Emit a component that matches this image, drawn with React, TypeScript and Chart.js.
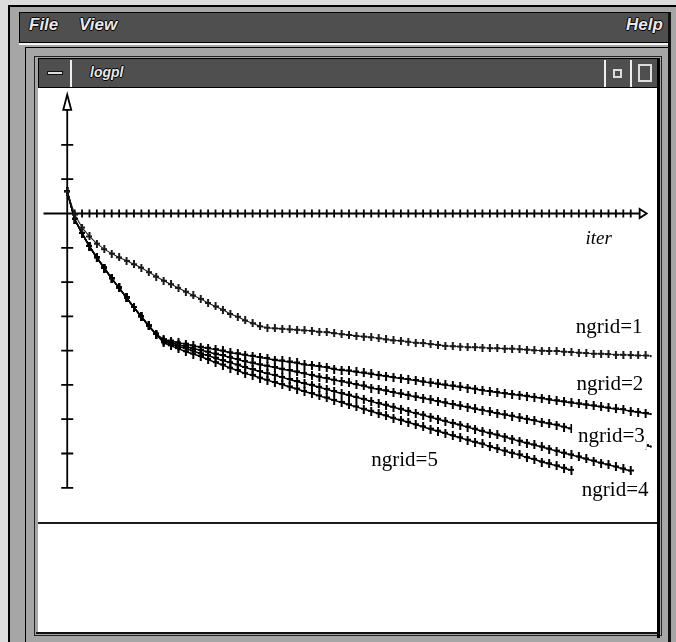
import React, { useEffect, useRef } from "react";
import { Chart, registerables } from "chart.js";

Chart.register(...registerables);

// residual (log scale units) per iteration, index = iteration number
const ngrid1 = [
  0.64, -0.03, -0.41, -0.67, -0.88, -1.04, -1.17, -1.28, -1.38, -1.48,
  -1.58, -1.71, -1.84, -1.96, -2.06, -2.17, -2.28, -2.39, -2.49, -2.61,
  -2.71, -2.81, -2.93, -3.01, -3.12, -3.2, -3.29, -3.33, -3.35, -3.36,
  -3.38, -3.39, -3.41, -3.42, -3.45, -3.46, -3.49, -3.52, -3.54, -3.57,
  -3.59, -3.61, -3.64, -3.67, -3.7, -3.71, -3.74, -3.77, -3.78, -3.81,
  -3.83, -3.86, -3.87, -3.88, -3.9, -3.9, -3.91, -3.93, -3.93, -3.94,
  -3.94, -3.96, -3.97, -3.99, -4.0, -4.01, -4.01, -4.03, -4.04, -4.06,
  -4.07, -4.09, -4.09, -4.1, -4.12, -4.12, -4.13, -4.14, -4.14, -4.16,
];
const ngrid2 = [
  0.64, -0.17, -0.58, -0.96, -1.29, -1.59, -1.9, -2.17, -2.46, -2.74,
  -3.01, -3.28, -3.52, -3.68, -3.72, -3.77, -3.81, -3.86, -3.9, -3.93,
  -3.97, -4.01, -4.06, -4.09, -4.13, -4.16, -4.2, -4.23, -4.28, -4.3,
  -4.33, -4.36, -4.41, -4.43, -4.46, -4.49, -4.54, -4.57, -4.59, -4.62,
  -4.65, -4.68, -4.72, -4.75, -4.78, -4.81, -4.84, -4.87, -4.91, -4.94,
  -4.97, -5.0, -5.03, -5.06, -5.09, -5.12, -5.16, -5.19, -5.22, -5.25,
  -5.28, -5.3, -5.33, -5.36, -5.39, -5.43, -5.46, -5.49, -5.52, -5.55,
  -5.58, -5.61, -5.64, -5.67, -5.7, -5.72, -5.77, -5.8, -5.83, -5.86,
];
const ngrid3 = [
  0.64, -0.17, -0.58, -0.96, -1.29, -1.59, -1.9, -2.17, -2.46, -2.74,
  -3.01, -3.28, -3.52, -3.71, -3.77, -3.83, -3.88, -3.94, -3.99, -4.04,
  -4.1, -4.14, -4.2, -4.26, -4.32, -4.36, -4.41, -4.45, -4.49, -4.54,
  -4.58, -4.62, -4.67, -4.72, -4.77, -4.81, -4.86, -4.9, -4.94, -4.99,
  -5.03, -5.09, -5.13, -5.17, -5.22, -5.26, -5.3, -5.35, -5.39, -5.43,
  -5.48, -5.52, -5.57, -5.61, -5.65, -5.7, -5.74, -5.78, -5.83, -5.87,
  -5.91, -5.96, -6.0, -6.04, -6.09, -6.13, -6.17, -6.23, -6.28, -6.32,
  -6.38, -6.42, -6.46, -6.52, -6.57, -6.61, -6.67, -6.71, -6.77, -6.81,
];
const ngrid4 = [
  0.64, -0.17, -0.58, -0.96, -1.29, -1.59, -1.9, -2.17, -2.46, -2.74,
  -3.01, -3.28, -3.52, -3.74, -3.81, -3.88, -3.94, -4.01, -4.09, -4.14,
  -4.22, -4.29, -4.35, -4.42, -4.49, -4.55, -4.61, -4.67, -4.72, -4.78,
  -4.84, -4.9, -4.96, -5.01, -5.07, -5.13, -5.19, -5.25, -5.3, -5.36,
  -5.42, -5.48, -5.54, -5.59, -5.65, -5.71, -5.77, -5.83, -5.88, -5.94,
  -6.0, -6.06, -6.12, -6.17, -6.23, -6.29, -6.35, -6.41, -6.46, -6.52,
  -6.58, -6.64, -6.7, -6.75, -6.81, -6.87, -6.93, -6.99, -7.04, -7.1,
  -7.16, -7.22, -7.28, -7.33, -7.39, -7.45, -7.51,
];
const ngrid5 = [
  0.64, -0.17, -0.58, -0.96, -1.29, -1.59, -1.9, -2.17, -2.46, -2.74,
  -3.01, -3.28, -3.52, -3.77, -3.86, -3.94, -4.03, -4.1, -4.17, -4.26,
  -4.35, -4.42, -4.51, -4.58, -4.67, -4.72, -4.8, -4.86, -4.93, -4.99,
  -5.06, -5.12, -5.19, -5.25, -5.32, -5.38, -5.45, -5.51, -5.58, -5.64,
  -5.71, -5.77, -5.84, -5.9, -5.97, -6.03, -6.09, -6.16, -6.22, -6.29,
  -6.35, -6.41, -6.48, -6.54, -6.61, -6.67, -6.72, -6.8, -6.86, -6.93,
  -6.99, -7.04, -7.12, -7.17, -7.25, -7.3, -7.36, -7.43, -7.49,
];

const seriesNames = ["ngrid=1", "ngrid=2", "ngrid=3", "ngrid=4", "ngrid=5"];
const seriesValues = [ngrid1, ngrid2, ngrid3, ngrid4, ngrid5];
// label anchor positions (iteration, value)
const labelIter = [68.6, 68.7, 68.9, 69.4, 41.0];
const labelValue = [-3.33, -5.0, -6.51, -8.09, -7.19];
const labelWhiteBox = [false, false, true, false, false];

const yTickValues = [-8, -7, -6, -5, -4, -3, -2, -1, 1, 2];
const xTickFirst = 1;
const xTickLast = 76;
const xAxisTitle = "iter";

const MID = "#a6a6a6";
const DARK = "#4f4f4f";

function makePlus(color: string, w: number, h: number) {
  const c = document.createElement("canvas");
  c.width = w;
  c.height = h;
  const g = c.getContext("2d")!;
  g.fillStyle = color;
  const cx = Math.floor(w / 2);
  g.fillRect(cx - 1, 0, 2, h);
  g.fillRect(0, Math.floor(h / 2) - 1, w, 2);
  return c;
}

export default function App() {
  const ref = useRef<HTMLCanvasElement>(null);

  useEffect(() => {
    document.body.style.margin = "0";
    const markBlack = makePlus("#000", 6, 9);
    const markGray = makePlus("#1a1a1a", 6, 8);

    const axesPlugin = {
      id: "axesPlugin",
      beforeDatasetsDraw(chart: any) {
        const { ctx, chartArea, scales } = chart;
        const xs = scales.x;
        const ys = scales.y;
        const x0 = xs.getPixelForValue(0);
        const y0 = ys.getPixelForValue(0);
        ctx.save();
        ctx.strokeStyle = "#000";
        ctx.lineWidth = 1.8;
        // x axis
        const xBase = xs.getPixelForValue(77.2);
        const xTip = xs.getPixelForValue(78.15);
        ctx.beginPath();
        ctx.moveTo(chartArea.left, y0);
        ctx.lineTo(xBase, y0);
        for (let i = xTickFirst; i <= xTickLast; i++) {
          const px = xs.getPixelForValue(i);
          ctx.moveTo(px, y0 - 4);
          ctx.lineTo(px, y0 + 4);
        }
        ctx.stroke();
        ctx.beginPath();
        ctx.moveTo(xBase, y0 - 4.5);
        ctx.lineTo(xTip, y0);
        ctx.lineTo(xBase, y0 + 4.5);
        ctx.closePath();
        ctx.fillStyle = "#fff";
        ctx.fill();
        ctx.stroke();
        // y axis
        const yBottom = ys.getPixelForValue(-8);
        const yBase = ys.getPixelForValue(3.02);
        const yTip = ys.getPixelForValue(3.47);
        ctx.beginPath();
        ctx.moveTo(x0, yBottom);
        ctx.lineTo(x0, yBase);
        for (const v of yTickValues) {
          const py = ys.getPixelForValue(v);
          ctx.moveTo(x0 - 6, py);
          ctx.lineTo(x0 + 6, py);
        }
        ctx.stroke();
        ctx.beginPath();
        ctx.moveTo(x0 - 4, yBase);
        ctx.lineTo(x0, yTip);
        ctx.lineTo(x0 + 4, yBase);
        ctx.closePath();
        ctx.fill();
        ctx.stroke();
        // axis title
        ctx.fillStyle = "#000";
        ctx.font = "italic 19px 'Liberation Serif', serif";
        ctx.textBaseline = "middle";
        ctx.textAlign = "left";
        ctx.fillText(xAxisTitle, xs.getPixelForValue(69.9), ys.getPixelForValue(-0.75));
        ctx.restore();
      },
      afterDatasetsDraw(chart: any) {
        const { ctx, scales } = chart;
        const xs = scales.x;
        const ys = scales.y;
        ctx.save();
        ctx.font = "21px 'Liberation Serif', serif";
        ctx.textBaseline = "middle";
        ctx.textAlign = "left";
        seriesNames.forEach((name, k) => {
          const px = xs.getPixelForValue(labelIter[k]);
          const py = ys.getPixelForValue(labelValue[k]);
          if (labelWhiteBox[k]) {
            const w = ctx.measureText(name).width;
            ctx.fillStyle = "#fff";
            ctx.fillRect(px - 6, py - 14, w + 8, 27);
          }
          ctx.fillStyle = "#000";
          ctx.fillText(name, px, py);
        });
        ctx.restore();
      },
    };

    const datasets = seriesValues.map((vals, k) => ({
      label: seriesNames[k],
      data: vals.map((v, i) => ({ x: i, y: v })),
      borderColor: k === 0 ? "#1a1a1a" : "#000",
      borderWidth: k === 0 ? 1.1 : 1.5,
      pointStyle: k === 0 ? markGray : markBlack,
      pointRadius: 4,
      tension: 0,
      fill: false,
    }));

    const chart = new Chart(ref.current!, {
      type: "line",
      data: { datasets },
      plugins: [axesPlugin],
      options: {
        animation: false,
        responsive: false,
        devicePixelRatio: 1,
        layout: { padding: { left: 4, right: 0, top: 3, bottom: 23.35 } },
        plugins: { legend: { display: false }, tooltip: { enabled: false } },
        events: [],
        scales: {
          x: { type: "linear", min: -3.2, max: 78.8, display: false },
          y: { type: "linear", min: -8.2, max: 3.5, display: false },
        },
      },
    } as any);
    return () => chart.destroy();
  }, []);

  const abs = (s: React.CSSProperties): React.CSSProperties => ({
    position: "absolute",
    boxSizing: "border-box",
    ...s,
  });
  const menuText: React.CSSProperties = {
    position: "absolute",
    color: "#e8e8e8",
    font: "italic bold 17px 'Liberation Sans', sans-serif",
    textShadow: "1px 0 0 #000, -1px 0 0 #000, 0 1px 0 #000, 0 -1px 0 #000",
  };

  return (
    <div
      style={{
        position: "fixed",
        left: 0,
        top: 0,
        width: 676,
        height: 642,
        overflow: "hidden",
        background: "#dcdcdc",
      }}
    >
      {/* outer window */}
      <div style={abs({ left: 8, top: 5, width: 680, height: 660, background: MID, borderLeft: "2px solid #000", borderTop: "2px solid #000" })} />
      {/* menu bar */}
      <div style={abs({ left: 19, top: 12, width: 652, height: 31, background: DARK, border: "1px solid #000" })} />
      <div style={{ ...menuText, left: 29, top: 15 }}>File</div>
      <div style={{ ...menuText, left: 79, top: 15 }}>View</div>
      <div style={{ ...menuText, left: 626, top: 15 }}>Help</div>
      <div style={abs({ left: 19, top: 43, width: 652, height: 2, background: "#f4f4f4" })} />
      {/* inner window */}
      <div style={abs({ left: 25, top: 47, width: 646, height: 620, background: MID, border: "1px solid #000" })} />
      <div style={abs({ left: 34, top: 56, width: 628, height: 580, border: "1px solid #222" })} />
      {/* title bar */}
      <div style={abs({ left: 38, top: 58, width: 620, height: 30, background: DARK, border: "1px solid #000" })} />
      <div style={abs({ left: 40, top: 60, width: 32, height: 27, borderRight: "2px solid #eee" })} />
      <div style={abs({ left: 47, top: 71, width: 16, height: 4, background: "#ddd", border: "1px solid #111" })} />
      <div style={{ ...menuText, font: "italic bold 14px 'Liberation Sans', sans-serif", left: 90, top: 64 }}>logpl</div>
      <div style={abs({ left: 604, top: 60, width: 28, height: 27, borderLeft: "2px solid #eee", borderRight: "2px solid #eee" })} />
      <div style={abs({ left: 613, top: 69, width: 9, height: 9, border: "2px solid #ddd" })} />
      <div style={abs({ left: 638, top: 64, width: 14, height: 18, border: "2px solid #ddd" })} />
      {/* client area */}
      <div style={abs({ left: 38, top: 88, width: 619, height: 544, background: "#fff" })} />
      <div style={abs({ left: 657, top: 58, width: 3, height: 580, background: "#000" })} />
      <div style={abs({ left: 668, top: 12, width: 3, height: 640, background: "#111" })} />
      <div style={abs({ left: 36, top: 632, width: 624, height: 2, background: "#111" })} />
      <div style={abs({ left: 38, top: 522, width: 619, height: 2, background: "#1a1a1a" })} />
      <canvas
        ref={ref}
        width={619}
        height={430}
        style={{ position: "absolute", left: 38, top: 88, width: 619, height: 430 }}
      />
    </div>
  );
}
